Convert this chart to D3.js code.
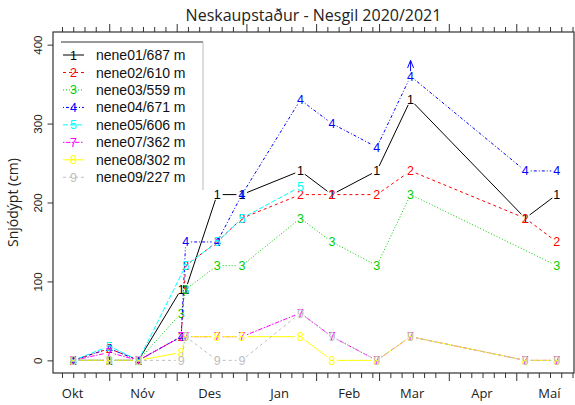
<!DOCTYPE html>
<html>
<head>
<meta charset="utf-8">
<script src="https://cdn.jsdelivr.net/npm/d3@7/dist/d3.min.js"></script>
<style>
  body { margin: 0; background: #fff; }
  svg { display: block; }
</style>
</head>
<body>
<svg id="chart"></svg>
<script>
// measurement dates (snow stake readings)
const dates = ["2020-10-16", "2020-11-01", "2020-11-14", "2020-12-03", "2020-12-05", "2020-12-19",
  "2020-12-30", "2021-01-25", "2021-02-08", "2021-02-28", "2021-03-15", "2021-05-05", "2021-05-19"];

// snow depth (cm) per station, null = no reading
const nene01 = [0, 0, 0, 90, 90, 210, 210, 240, 210, 240, 330, 180, 210];
const nene02 = [0, 15, 0, 30, 120, 150, 180, 210, 210, 210, 240, 180, 150];
const nene03 = [0, 0, 0, 60, 90, 120, 120, 180, 150, 120, 210, null, 120];
const nene04 = [0, 15, 0, 30, 150, 150, 210, 330, 300, 270, 360, 240, 240];
const nene05 = [0, 18, 0, null, 120, 150, 180, 220, null, null, null, null, null];
const nene07 = [0, 10, 0, 30, 30, 30, 30, 60, 30, 0, 30, 0, 0];
const nene08 = [0, 0, 0, 10, 30, 30, 30, 30, 0, 0, 30, 0, 0];
const nene09 = [0, 0, 0, 0, 30, 0, 0, 60, 30, 0, 30, 0, 0];

const stationNames = ["nene01/687 m", "nene02/610 m", "nene03/559 m", "nene04/671 m",
  "nene05/606 m", "nene07/362 m", "nene08/302 m", "nene09/227 m"];
const stationSymbols = ["1", "2", "3", "4", "5", "7", "8", "9"];

// stake buried: reading is a lower bound (station index, date)
const overflow = [[3, "2021-03-15"]];

const yTicks = [0, 100, 200, 300, 400];
const monthNames = ["Okt", "Nóv", "Des", "Jan", "Feb", "Mar", "Apr", "Maí"];

// styles (old R palette + lty 1..6)
const colors = ["#000000", "#FF0000", "#00CD00", "#0000FF", "#00FFFF", "#FF00FF", "#FFFF00", "#BEBEBE"];
const dashes = [null, "3,3", "1,2", "1,2,3,2", "5,2", "1.5,1.5,4.5,1.5", null, "3,3"];

const values = [nene01, nene02, nene03, nene04, nene05, nene07, nene08, nene09];

const W = 575, H = 405;
const margin = { top: 32, right: 1, bottom: 32, left: 53 };
const sansA = "'Liberation Sans', Arial, sans-serif";
const sansB = "'Open Sans', 'Liberation Sans', sans-serif";

const parse = d3.timeParse("%Y-%m-%d");
const svg = d3.select("#chart").attr("width", W).attr("height", H);

const x = d3.scaleTime()
  .domain([new Date(2020, 9, 7), new Date(2021, 4, 26, 16)])
  .range([margin.left, W - margin.right]);
const y = d3.scaleLinear()
  .domain([-16, 416])
  .range([H - margin.bottom, margin.top]);

// tick dates: month starts (major) and every 5 days (minor)
const months = d3.timeMonth.range(new Date(2020, 9, 1), new Date(2021, 5, 1));
const majorTicks = months.filter(d => x(d) >= margin.left && x(d) <= W - margin.right);
const minorTicks = [];
months.forEach(m => {
  [6, 11, 16, 21, 26].forEach(day => {
    const d = new Date(m.getFullYear(), m.getMonth(), day);
    if (x(d) >= margin.left && x(d) <= W - margin.right) minorTicks.push(d);
  });
});
const labelDates = months.slice(0, monthNames.length).map(m => new Date(m.getFullYear(), m.getMonth(), 15, 12));

function tickAxis(axisFn, ty, vals, size) {
  const g = svg.append("g")
    .attr("transform", `translate(0,${ty})`)
    .call(axisFn(x).tickValues(vals).tickSize(size).tickFormat(""));
  g.select(".domain").remove();
  g.selectAll("line").attr("stroke", "#333");
}
tickAxis(d3.axisBottom, H - margin.bottom, minorTicks, 5);
tickAxis(d3.axisBottom, H - margin.bottom, majorTicks, 8);
tickAxis(d3.axisTop, margin.top, minorTicks, 5);
tickAxis(d3.axisTop, margin.top, majorTicks, 8);

// month labels
const xLab = svg.append("g")
  .attr("transform", `translate(0,${H - margin.bottom})`)
  .call(d3.axisBottom(x).tickValues(labelDates).tickSize(0).tickFormat((d, i) => monthNames[i]));
xLab.select(".domain").remove();
xLab.selectAll("text")
  .attr("y", 25).attr("dy", 0)
  .style("font-family", sansB).style("font-size", "13px").style("fill", "#222");

// y axis
const yAx = svg.append("g")
  .attr("transform", `translate(${margin.left},0)`)
  .call(d3.axisLeft(y).tickValues(yTicks).tickSize(5.5));
yAx.select(".domain").remove();
yAx.selectAll("line").attr("stroke", "#333");
yAx.selectAll("text")
  .attr("x", 0).attr("dy", 0)
  .attr("transform", "translate(-11.5,0) rotate(-90)")
  .attr("text-anchor", "middle")
  .style("font-family", sansA).style("font-size", "11.5px").style("fill", "#222");

// plot box
svg.append("rect")
  .attr("x", margin.left).attr("y", margin.top)
  .attr("width", W - margin.right - margin.left)
  .attr("height", H - margin.bottom - margin.top)
  .attr("fill", "none").attr("stroke", "#333").attr("stroke-width", 1.2);

// y title
svg.append("text")
  .attr("transform", `translate(18,${(margin.top + H - margin.bottom) / 2}) rotate(-90)`)
  .attr("text-anchor", "middle")
  .style("font-family", sansB).style("font-size", "14px").style("fill", "#222")
  .text("Snjódýpt (cm)");

// title
svg.append("text")
  .attr("x", (margin.left + W - margin.right) / 2).attr("y", 21)
  .attr("text-anchor", "middle")
  .style("font-family", sansB).style("font-size", "16px").style("fill", "#222")
  .text("Neskaupstaður - Nesgil 2020/2021");

// series: lines with gaps around the symbols (type = "b")
const gap = 5.5;
const plot = svg.append("g");
values.forEach((vals, i) => {
  const pts = dates.map((d, j) => ({ x: x(parse(d)), y: y(vals[j]), v: vals[j] }))
    .filter(p => p.v !== null);
  const segs = d3.pairs(pts).map(([a, b]) => {
    const dx = b.x - a.x, dy = b.y - a.y, L = Math.hypot(dx, dy);
    if (L <= 2 * gap) return null;
    const ux = dx / L, uy = dy / L;
    return [a.x + ux * gap, a.y + uy * gap, b.x - ux * gap, b.y - uy * gap];
  }).filter(Boolean);

  const g = plot.append("g");
  g.selectAll("line")
    .data(segs)
    .join("line")
    .attr("x1", d => d[0]).attr("y1", d => d[1])
    .attr("x2", d => d[2]).attr("y2", d => d[3])
    .attr("stroke", colors[i])
    .attr("stroke-width", 1)
    .attr("stroke-dasharray", dashes[i]);

  g.selectAll("text")
    .data(pts)
    .join("text")
    .attr("x", d => d.x).attr("y", d => d.y)
    .attr("dy", "0.36em")
    .attr("text-anchor", "middle")
    .style("font-family", sansA).style("font-size", "12.5px")
    .style("fill", colors[i])
    .text(stationSymbols[i]);
});

// arrows for buried stakes
overflow.forEach(([i, d]) => {
  const j = dates.indexOf(d);
  const ax = x(parse(d)), y0 = y(values[i][j]), y1 = y(values[i][j] + 20);
  plot.append("path")
    .attr("d", `M${ax},${y0 - 5}L${ax},${y1}M${ax - 3},${y1 + 7.5}L${ax},${y1}L${ax + 3},${y1 + 7.5}`)
    .attr("fill", "none").attr("stroke", colors[i]).attr("stroke-width", 1);
});

// legend
const leg = svg.append("g");
const legX = 61, legY = 42, legW = 142, legH = 148, rowH = 17.47;
leg.append("rect")
  .attr("x", legX).attr("y", legY).attr("width", legW).attr("height", legH)
  .attr("fill", "#fff");
leg.append("line")
  .attr("x1", legX).attr("x2", legX + legW).attr("y1", legY).attr("y2", legY)
  .attr("stroke", "#333");
leg.append("line")
  .attr("x1", legX + legW).attr("x2", legX + legW).attr("y1", legY).attr("y2", legY + legH)
  .attr("stroke", "#bbb");

const rows = leg.selectAll("g.row")
  .data(stationNames)
  .join("g")
  .attr("class", "row")
  .attr("transform", (d, i) => `translate(${legX},${legY + 13 + i * rowH})`);
rows.append("line")
  .attr("x1", 2).attr("x2", 23)
  .attr("stroke", (d, i) => colors[i])
  .attr("stroke-dasharray", (d, i) => dashes[i]);
rows.append("text")
  .attr("x", 12.5).attr("dy", "0.36em")
  .attr("text-anchor", "middle")
  .style("font-family", sansA).style("font-size", "12.5px")
  .style("fill", (d, i) => colors[i])
  .text((d, i) => stationSymbols[i]);
rows.append("text")
  .attr("x", 35).attr("dy", "0.36em")
  .style("font-family", sansA).style("font-size", "14px").style("fill", "#111")
  .text(d => d);
</script>
</body>
</html>
